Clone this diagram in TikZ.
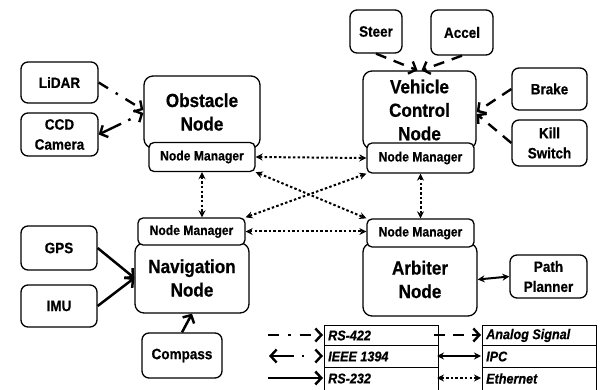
\documentclass[tikz,border=0pt]{standalone}
\usepackage{fontspec}
\setmainfont{Liberation Sans}[FakeStretch=0.9, BoldFeatures={FakeBold=0.6}, BoldItalicFeatures={FakeBold=0.6}]
\usetikzlibrary{arrows.meta}

\begin{document}
\begin{tikzpicture}[x=1pt,y=-1pt,
  wh/.style 2 args={minimum width=#1pt, minimum height=#2pt},
  box/.style={draw=black, line width=1.3pt, fill=white, rounded corners=7pt,
    align=center, inner sep=0pt, font=\fontsize{15}{20}\selectfont\bfseries},
  bignode/.style={box, rounded corners=9pt, font=\fontsize{19}{23.5}\selectfont\bfseries},
  manager/.style={box, rounded corners=5pt, font=\fontsize{13.5}{15}\selectfont\bfseries},
  legtext/.style={anchor=west, inner sep=0pt, font=\fontsize{14}{16}\selectfont\bfseries\itshape},
  barb/.tip={Straight Barb[length=6pt,width=13pt]},
  smallhead/.tip={Stealth[length=7pt,width=7pt]},
  rsTwoThreeTwo/.style={line width=2.5pt, -barb},
  rsFourTwoTwo/.style={line width=2.4pt, dash pattern=on 11pt off 9pt on 2.5pt off 9pt, -barb},
  firewire/.style={line width=2.4pt, dash pattern=on 22pt off 8pt on 2.5pt off 20pt, barb-barb},
  analog/.style={line width=2.4pt, dash pattern=on 11pt off 8pt, -barb},
  ipc/.style={line width=2pt, smallhead-smallhead},
  eth/.style={line width=2pt, dash pattern=on 2.5pt off 2.2pt, smallhead-smallhead},
  tableline/.style={draw=black, line width=1pt}
]
\useasboundingbox (0,0) rectangle (600,390);

% sensors and actuators
\node[box, wh={77}{41}] (lidar) at (59.5,82.5) {LiDAR};
\node[box, wh={77}{43}] (ccd) at (59.5,134.5) {CCD\\Camera};
\node[box, wh={52}{43}] (steer) at (376,31.5) {Steer};
\node[box, wh={62}{45}] (accel) at (462,32.5) {Accel};
\node[box, wh={75}{42}] (brake) at (549.5,89) {Brake};
\node[box, wh={75}{46}] (kill) at (549.5,143) {Kill\\Switch};
\node[box, wh={76}{44}] (gps) at (59,248) {GPS};
\node[box, wh={76}{42}] (imu) at (59,306) {IMU};
\node[box, wh={80}{45}] (compass) at (182,355.5) {Compass};
\node[box, wh={77}{43}] (path) at (548.5,276.5) {Path\\Planner};

% main nodes with their node managers
\node[bignode, wh={116}{72}] (obst) at (202,112) {Obstacle\\Node};
\node[manager, wh={106}{29}] (onm) at (202,157) {Node Manager};
\node[bignode, wh={113}{78}] (vcn) at (419.5,110) {Vehicle\\Control\\Node};
\node[manager, wh={107}{30}] (vnm) at (420.5,158) {Node Manager};
\node[bignode, wh={114}{70}] (nav) at (192,278) {Navigation\\Node};
\node[manager, wh={107}{27}] (nnm) at (191.5,231.5) {Node Manager};
\node[bignode, wh={114}{73}] (arb) at (420,279.5) {Arbiter\\Node};
\node[manager, wh={107}{28}] (anm) at (420.5,233) {Node Manager};

% device links
\draw[rsFourTwoTwo] (lidar.east) -- ([yshift=2pt]obst.west);
\draw[firewire] (ccd.east) -- ([yshift=-1pt]obst.west);
\draw[analog] (steer.south) -- ([xshift=-2pt]vcn.north);
\draw[analog] (accel.south) -- ([xshift=2pt]vcn.north);
\draw[analog] (brake.west) -- ([yshift=-2pt]vcn.east);
\draw[analog] (kill.west) -- ([yshift=-4pt]vcn.east);
\draw[rsTwoThreeTwo] (gps.east) -- (nav.west);
\draw[rsTwoThreeTwo] (imu.east) -- (nav.west);
\draw[rsTwoThreeTwo] (compass.north) -- (nav.south);
\draw[ipc] (arb.east) -- (path.west);

% ethernet between node managers
\draw[eth] (onm.east) -- (vnm.west);
\draw[eth] (onm.south) -- (onm.south |- nnm.north);
\draw[eth] (vnm.south) -- (anm.north);
\draw[eth] (nnm.east) -- (nnm.east -| anm.west);
\draw[eth] (onm.south east) -- (anm.north west);
\draw[eth] (nnm.north east) -- (vnm.south west);

% legend tables
\draw[tableline] (324,390) -- (324,325) -- (438,325) -- (438,390);
\draw[tableline] (324,345) -- (438,345) (324,367) -- (438,367);
\draw[tableline] (482,390) -- (482,325) -- (596,325) -- (596,390);
\draw[tableline] (482,345) -- (596,345) (482,367) -- (596,367);

\node[legtext] (lrsa) at (328,335.5) {RS-422};
\node[legtext] (lieee) at (328,356.5) {IEEE 1394};
\node[legtext] (lrsb) at (328,378.5) {RS-232};
\node[legtext] (lana) at (486,335.5) {Analog Signal};
\node[legtext] (lipc) at (486,356.5) {IPC};
\node[legtext] (leth) at (486,378.5) {Ethernet};

% legend samples
\coordinate (s1a) at (268,335); \coordinate (s1b) at (323,335);
\coordinate (s2a) at (269,356); \coordinate (s2b) at (323,356);
\coordinate (s3a) at (268,378); \coordinate (s3b) at (323,378);
\coordinate (s4a) at (434,335); \coordinate (s4b) at (481,335);
\coordinate (s5a) at (437,356); \coordinate (s5b) at (481,356);
\coordinate (s6a) at (437,378); \coordinate (s6b) at (481,378);
\draw[rsFourTwoTwo] (s1a) -- (s1b);
\draw[firewire] (s2a) -- (s2b);
\draw[rsTwoThreeTwo] (s3a) -- (s3b);
\draw[analog] (s4a) -- (s4b);
\draw[ipc] (s5a) -- (s5b);
\draw[eth] (s6a) -- (s6b);
\end{tikzpicture}
\end{document}
